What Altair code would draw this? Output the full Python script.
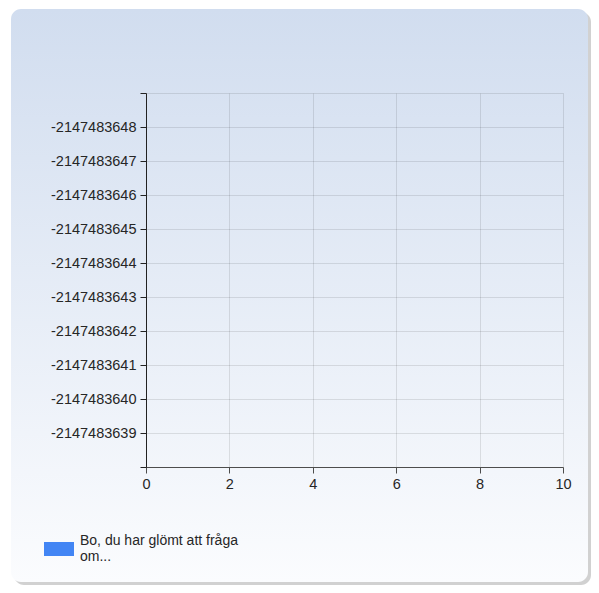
import altair as alt
import pandas as pd

# ---- data ----
SERIES = ["Bo, du har glömt att fråga om..."]
SERIES_COLORS = ["#4285f4"]
SERIES_X = [None]   # the series has no plotted values
SERIES_Y = [None]
X_DOMAIN = [0, 10]
X_TICKS = [0, 2, 4, 6, 8, 10]
Y_DOMAIN = [-2147483649, -2147483638]
Y_TICKS = [-2147483649, -2147483648, -2147483647, -2147483646, -2147483645,
           -2147483644, -2147483643, -2147483642, -2147483641, -2147483640,
           -2147483639, -2147483638]
Y_LABELED = Y_TICKS[1:-1]

FONT = "Liberation Sans"
TEXT_COLOR = "#262626"

df = pd.DataFrame({"series": SERIES, "x": SERIES_X, "y": SERIES_Y})
bg_df = pd.DataFrame({"k": [0]})

shadow = alt.Chart(bg_df).mark_rect(
    color="#9a9a9a", opacity=0.45, cornerRadius=10
).encode(
    x=alt.value(-132), x2=alt.value(445), y=alt.value(-81), y2=alt.value(492)
)

background = alt.Chart(bg_df).mark_rect(
    cornerRadius=10,
    color=alt.Gradient(
        gradient="linear",
        stops=[alt.GradientStop(color="#d1ddef", offset=0),
               alt.GradientStop(color="#fbfcfe", offset=1)],
        x1=0, x2=0, y1=0, y2=1,
    ),
).encode(
    x=alt.value(-135), x2=alt.value(442), y=alt.value(-84), y2=alt.value(489)
)

lo, hi = Y_LABELED[0], Y_LABELED[-1]
label_expr = f"(datum.value < {lo} - 0.5 || datum.value > {hi} + 0.5) ? '' : '' + datum.value"

points = alt.Chart(df).mark_point(filled=True, size=60).encode(
    x=alt.X("x:Q", scale=alt.Scale(domain=X_DOMAIN, nice=False, zero=False),
            axis=alt.Axis(values=X_TICKS, format="d", title=None, zindex=1,
                          labelFlush=False,
                          grid=True, gridColor="#000000", gridOpacity=0.1,
                          domainColor="#4d4d4d", tickColor="#4d4d4d",
                          tickSize=6, labelPadding=4,
                          labelFont=FONT, labelFontSize=14.5, labelColor=TEXT_COLOR)),
    y=alt.Y("y:Q", scale=alt.Scale(domain=Y_DOMAIN, reverse=True, nice=False, zero=False),
            axis=alt.Axis(values=Y_TICKS, labelExpr=label_expr, title=None, zindex=1,
                          labelFlush=False,
                          grid=True, gridColor="#000000", gridOpacity=0.1,
                          domainColor="#222222", tickColor="#222222",
                          tickSize=6, labelPadding=4,
                          labelFont=FONT, labelFontSize=14.5, labelColor=TEXT_COLOR)),
    color=alt.Color("series:N",
                    scale=alt.Scale(domain=SERIES, range=SERIES_COLORS),
                    legend=alt.Legend(
                        title=None, orient="none", legendX=-102, legendY=433,
                        symbolType="M-1,0.0667H1V1H-1Z", symbolSize=900,
                        symbolStrokeWidth=0, symbolOpacity=1,
                        labelFont=FONT, labelFontSize=14, labelColor=TEXT_COLOR,
                        labelOffset=6, labelLimit=400, padding=0, zindex=1,
                        labelExpr="[slice(datum.label, 0, 26), slice(datum.label, 27)]",
                    )),
)

chart = alt.layer(shadow, background, points).properties(
    width=417, height=374,
    autosize=alt.AutoSizeParams(type="none"),
    padding={"left": 138, "top": 85, "right": 28, "bottom": 118},
    background="#ffffff",
).configure_view(strokeWidth=0)

chart.save("out.html", embed_options={"renderer": "svg", "actions": False})
